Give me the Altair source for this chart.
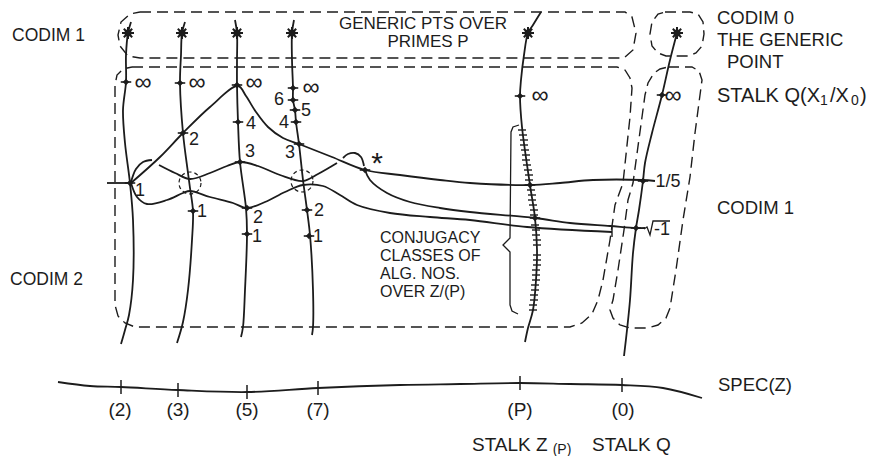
import altair as alt
import pandas as pd

# ---------------- fibres (vertical solid curves) ----------------
fib2_x = [131, 128, 126, 126, 123, 125, 130, 133, 133, 129, 125, 121]
fib2_y = [22, 33, 55, 82, 110, 143, 183, 220, 280, 315, 330, 344]
fib3_x = [185, 182, 181, 180, 183, 188, 190, 193, 192, 188, 183, 177]
fib3_y = [22, 33, 55, 83, 133, 173, 188, 211, 240, 290, 322, 343]
fib5_x = [235, 237, 237, 237, 238, 240, 246, 247, 245, 243, 241]
fib5_y = [20, 33, 60, 85, 122, 162, 208, 234, 290, 327, 337]
fib7_x = [294, 292, 292, 293, 293, 295, 296, 299, 303, 307, 310, 313, 313, 312]
fib7_y = [20, 33, 60, 88, 100, 110, 122, 144, 180, 210, 235, 290, 327, 335]
fibP_x = [541, 533, 528, 524, 521, 520, 522, 530, 535, 537, 536, 533, 528, 525]
fibP_y = [12, 25, 33, 55, 80, 96, 127, 185, 218, 250, 280, 310, 328, 342]
fib0_x = [677, 670, 662, 652, 645, 643, 639, 636, 633, 630, 627, 624]
fib0_y = [33, 60, 95, 133, 163, 181, 210, 228, 253, 300, 330, 356]

# ---------------- horizontal curves ----------------
curveA_x = [131, 160, 183, 210, 238, 246, 256, 268, 283, 299, 332, 365, 400, 440, 470, 530, 560, 593, 642, 655]
curveA_y = [183, 157, 133, 107, 86, 96, 112, 127, 138, 144, 157, 170, 175, 180, 183, 185, 183, 180, 180, 181]
curveE_x = [159, 175, 190, 210, 227, 240, 258, 280, 303, 318, 337]
curveE_y = [165, 173, 179, 173, 166, 162, 166, 175, 181, 174, 163]
curveD_x = [131, 137, 147, 167, 183, 190, 210, 233, 247, 265, 285, 303, 323, 340, 357, 390, 430, 470, 527, 612]
curveD_y = [183, 197, 204, 200, 193, 191, 197, 203, 208, 202, 192, 185, 186, 195, 205, 213, 217, 220, 227, 232]
curveC_x = [365, 370, 387, 410, 440, 470, 535, 570, 610, 636, 645]
curveC_y = [170, 180, 193, 202, 208, 212, 218, 223, 226, 228, 228]
arc1_x = [131, 136, 143, 152]
arc1_y = [182, 169, 162, 160]
arcS_x = [343, 348, 355, 361, 364]
arcS_y = [158, 154, 153, 157, 166]
tail_x = [107, 131]
tail_y = [183, 183]
spec_x = [58, 90, 121, 178, 247, 318, 400, 460, 520, 570, 622, 663, 702]
spec_y = [382, 386, 387, 390, 392, 388, 385, 384, 383, 384, 385, 388, 398]

# ---------------- dashed regions ----------------
boxTop_x = [140, 625, 632, 636, 633, 624, 140, 128, 120, 118, 121, 130, 140]
boxTop_y = [12, 12, 17, 33, 50, 58, 58, 56, 46, 35, 22, 14, 12]
boxGen_x = [665, 690, 698, 703, 704, 702, 696, 688, 666, 658, 652, 650, 652, 658, 665]
boxGen_y = [12, 12, 14, 22, 34, 46, 53, 56, 56, 53, 46, 34, 22, 14, 12]
boxMid_x = [132, 617, 625, 630, 632, 630, 623, 615, 610, 603, 598, 592, 582, 570, 135, 125, 118, 115, 115, 117, 123, 132]
boxMid_y = [67, 67, 70, 78, 88, 117, 183, 205, 240, 280, 300, 314, 323, 327, 327, 323, 316, 305, 85, 75, 69, 67]
boxQ_x = [668, 692, 699, 702, 700, 695, 690, 683, 676, 670, 666, 658, 648, 630, 620, 613, 610, 613, 618, 624,
          628, 633, 642, 645, 648, 654, 660, 668]
boxQ_y = [67, 67, 71, 80, 95, 133, 177, 220, 270, 308, 318, 325, 328, 328, 325, 318, 310, 300, 270, 230,
          200, 183, 117, 95, 83, 73, 69, 67]

# ---------------- thin strokes: brace and radical ----------------
brace_x = [519, 513, 511, 510, 503, 510, 510, 512, 518]
brace_y = [125, 127, 132, 238, 245, 252, 305, 311, 314]
radical_x = [644, 647, 650, 653, 670]
radical_y = [229, 227, 235, 221, 221]

# ---------------- marked points ----------------
dot_x = [126, 130, 180, 183, 193, 237, 238, 240, 247, 247, 293, 293, 295, 296, 299, 307, 309,
         520, 530, 535, 662, 643, 636, 365]
dot_y = [82, 183, 83, 133, 211, 85, 122, 162, 208, 234, 88, 100, 110, 122, 144, 210, 236,
         96, 185, 218, 95, 181, 228, 170]
star_x = [128, 182, 237, 292, 528, 677]
star_y = [33, 33, 33, 33, 33, 33]
ring_x = [190, 302]
ring_y = [183, 181]
hatch_y = [130, 135, 140, 145, 150, 155, 160, 165, 170, 175, 180, 190, 195, 200, 205, 210, 215,
           225, 230, 235, 240, 245, 255, 260, 265, 270, 275, 280, 285, 290, 295, 300, 305, 310]
hatch_x = [522, 523, 524, 524, 525, 526, 526, 527, 528, 529, 529, 531, 532, 532, 533, 534, 534,
           535, 536, 536, 537, 537, 537, 537, 537, 536, 536, 536, 535, 535, 534, 534, 533, 533]
spectick_x = [121, 178, 247, 318, 520, 622]
spectick_y = [387, 390, 392, 388, 383, 385]

# ---------------- text ----------------
inf_text = ["∞", "∞", "∞", "∞", "∞", "∞"]
inf_x = [143, 197, 254, 311, 540, 673]
inf_y = [83, 83, 83, 88, 96, 96]
num_text = ["1", "2", "4", "3", "6", "5", "4", "3", "1", "2", "1", "2", "1", "1/5", "-1"]
num_x = [140, 194, 251, 250, 279, 306, 284, 290, 202, 258, 257, 319, 318, 668, 662]
num_y = [191, 140, 124, 152, 100, 111, 123, 153, 212, 218, 237, 211, 237, 182, 230]
title_text = ["GENERIC PTS OVER", "PRIMES P"]
title_x = [423, 428]
title_y = [24, 42]
prime_text = ["(2)", "(3)", "(5)", "(7)", "(P)", "(0)"]
prime_x = [120, 178, 247, 318, 520, 623]
prime_y = [410, 410, 410, 410, 410, 410]
codim_text = ["CODIM 1", "CODIM 2"]
codim_x = [12, 10]
codim_y = [36, 280]
right_text = ["CODIM 0", "THE GENERIC", "POINT", "CODIM 1", "SPEC(Z)"]
right_x = [717, 717, 727, 717, 718]
right_y = [18, 40, 62, 208, 385]
conj_text = ["CONJUGACY", "CLASSES OF", "ALG. NOS.", "OVER Z/(P)"]
conj_x = [380, 380, 380, 380]
conj_y = [238, 256, 274, 292]
bottom_text = ["STALK Z", "STALK Q"]
bottom_x = [472, 592]
bottom_y = [445, 445]
stalk_text = ["STALK Q(X", "/X", ")"]
stalk_x = [717, 830, 860]
stalk_y = [96, 96, 96]
sub_text = ["(P)", "1", "0"]
sub_x = [562, 824, 855]
sub_y = [450, 101, 101]
aster_text = ["*"]
aster_x = [377]
aster_y = [164]


def frame(curves):
    rows = []
    for name, (xs, ys) in curves.items():
        for i, (x, y) in enumerate(zip(xs, ys)):
            rows.append({"curve": name, "i": i, "x": x, "y": y})
    return pd.DataFrame(rows)


def pts(xs, ys, texts=None):
    d = {"x": xs, "y": ys}
    if texts is not None:
        d["t"] = texts
    return pd.DataFrame(d)


XS = alt.Scale(domain=[8, 868], nice=False, zero=False)
YS = alt.Scale(domain=[8, 446], nice=False, zero=False, reverse=True)
INK = "#1c1c1c"
FONT = "Liberation Sans"


def xy():
    return dict(x=alt.X("x:Q", scale=XS, axis=None), y=alt.Y("y:Q", scale=YS, axis=None))


def text_layer(xs, ys, texts, size, align):
    return alt.Chart(pts(xs, ys, texts)).mark_text(
        font=FONT, fontSize=size, color=INK, align=align, baseline="middle"
    ).encode(**xy(), text="t:N")


solid_curves = {
    "f2": (fib2_x, fib2_y), "f3": (fib3_x, fib3_y), "f5": (fib5_x, fib5_y),
    "f7": (fib7_x, fib7_y), "fP": (fibP_x, fibP_y), "f0": (fib0_x, fib0_y),
    "A": (curveA_x, curveA_y), "E": (curveE_x, curveE_y), "D": (curveD_x, curveD_y),
    "C": (curveC_x, curveC_y), "arc1": (arc1_x, arc1_y), "arcS": (arcS_x, arcS_y),
    "tail": (tail_x, tail_y), "spec": (spec_x, spec_y),
}
dashed_curves = {
    "top": (boxTop_x, boxTop_y), "gen": (boxGen_x, boxGen_y),
    "mid": (boxMid_x, boxMid_y), "q": (boxQ_x, boxQ_y),
}
thin_curves = {"brace": (brace_x, brace_y), "radical": (radical_x, radical_y)}

solid = alt.Chart(frame(solid_curves)).mark_line(
    interpolate="catmull-rom", color=INK, strokeWidth=1.8
).encode(**xy(), detail="curve:N", order="i:Q")

dashed = alt.Chart(frame(dashed_curves)).mark_line(
    interpolate="linear", color=INK, strokeWidth=1.4, strokeDash=[11, 6]
).encode(**xy(), detail="curve:N", order="i:Q")

thin = alt.Chart(frame(thin_curves)).mark_line(
    interpolate="linear", color=INK, strokeWidth=1.3
).encode(**xy(), detail="curve:N", order="i:Q")

dots = alt.Chart(pts(dot_x, dot_y)).mark_point(
    shape="diamond", filled=True, size=42, color=INK, opacity=1
).encode(**xy())
dot_ticks = alt.Chart(pts(dot_x, dot_y)).mark_point(
    shape="M-1,0L1,0", size=110, color=INK, strokeWidth=1.6, opacity=1
).encode(**xy())
hatch = alt.Chart(pts(hatch_x, hatch_y)).mark_point(
    shape="M-1,0L1,0", size=64, color=INK, strokeWidth=1.4, opacity=1
).encode(**xy())
spec_ticks = alt.Chart(pts(spectick_x, spectick_y)).mark_point(
    shape="M0,-1L0,1", size=196, color=INK, strokeWidth=1.5, opacity=1
).encode(**xy())
d_end = alt.Chart(pts([612], [232])).mark_point(
    shape="M0,-1L0,1", size=100, color=INK, strokeWidth=1.4, opacity=1
).encode(**xy())
stars = alt.Chart(pts(star_x, star_y)).mark_point(
    shape="M-1,0L1,0M0,-1L0,1M-0.7,-0.7L0.7,0.7M-0.7,0.7L0.7,-0.7",
    size=144, color=INK, strokeWidth=2, opacity=1
).encode(**xy())
star_core = alt.Chart(pts(star_x, star_y)).mark_point(
    shape="circle", filled=True, size=50, color=INK, opacity=1
).encode(**xy())
rings = alt.Chart(pts(ring_x, ring_y)).mark_point(
    shape="circle", size=484, color=INK, strokeWidth=1.2, strokeDash=[4, 3], opacity=1
).encode(**xy())

layers_text = [
    text_layer(inf_x, inf_y, inf_text, 24, "center"),
    text_layer(num_x, num_y, num_text, 18, "center"),
    text_layer(title_x, title_y, title_text, 17, "center"),
    text_layer(prime_x, prime_y, prime_text, 19, "center"),
    text_layer(codim_x, codim_y, codim_text, 17.5, "left"),
    text_layer(right_x, right_y, right_text, 18.5, "left"),
    text_layer(conj_x, conj_y, conj_text, 16, "left"),
    text_layer(bottom_x, bottom_y, bottom_text, 19, "left"),
    text_layer(stalk_x, stalk_y, stalk_text, 20, "left"),
    text_layer(sub_x, sub_y, sub_text, 14, "center"),
    text_layer(aster_x, aster_y, aster_text, 30, "center"),
]

chart = alt.layer(
    dashed, solid, thin, rings, hatch, spec_ticks, d_end, dot_ticks, dots, stars, star_core,
    *layers_text
).properties(width=860, height=438, padding=0).configure_view(stroke=None)

chart.save("out.html", embed_options={"renderer": "svg", "actions": False})
